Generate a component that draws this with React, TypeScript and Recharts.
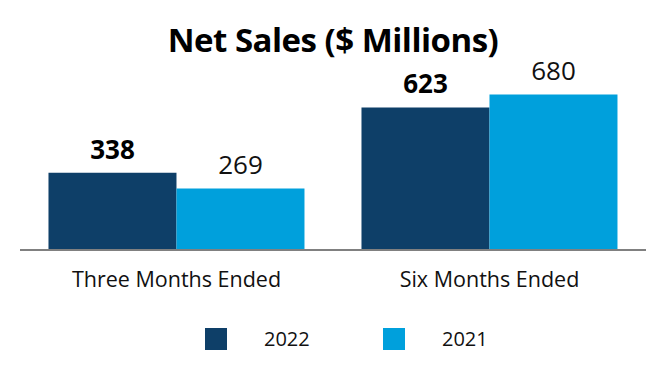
import { BarChart, Bar, XAxis, YAxis, LabelList, Legend } from "recharts";

const categories = ["Three Months Ended", "Six Months Ended"];
const sales2022 = [338, 623];
const sales2021 = [269, 680];
const seriesNames = ["2022", "2021"];

const data = categories.map((name, i) => ({
  name,
  y2022: sales2022[i],
  y2021: sales2021[i],
}));

const DARK = "#0e3f68";
const LIGHT = "#00a0dc";
const FONT = "'Open Sans', sans-serif";

function LegendContent() {
  const items = [
    { label: seriesNames[0], color: DARK, x: 205 },
    { label: seriesNames[1], color: LIGHT, x: 383 },
  ];
  return (
    <div style={{ position: "relative", height: 50, width: 666 }}>
      {items.map((it) => (
        <div key={it.label}>
          <div
            style={{
              position: "absolute",
              left: it.x,
              top: 28,
              width: 22,
              height: 22,
              background: it.color,
            }}
          />
          <div
            style={{
              position: "absolute",
              left: it.x + 59,
              top: 25,
              fontFamily: FONT,
              fontSize: 20,
              lineHeight: "28px",
              color: "#111",
            }}
          >
            {it.label}
          </div>
        </div>
      ))}
    </div>
  );
}

export default function App() {
  return (
    <div style={{ position: "absolute", left: 0, top: 0, width: 666, height: 380, background: "#fff" }}>
      <div
        style={{
          position: "absolute",
          top: 20,
          left: 0,
          width: 666,
          textAlign: "center",
          fontFamily: FONT,
          fontWeight: 700,
          fontSize: 33,
          letterSpacing: -0.5,
          color: "#000",
          lineHeight: "40px",
        }}
      >
        Net Sales ($ Millions)
      </div>
      <BarChart
        width={666}
        height={380}
        data={data}
        margin={{ top: 67, right: 20, left: 20, bottom: 30 }}
        barCategoryGap="9.1%"
        barGap={0}
      >
        <XAxis
          dataKey="name"
          height={50}
          axisLine={{ stroke: "#808080", strokeWidth: 2 }}
          tickLine={false}
          tickMargin={16}
          tick={{ fill: "#111", fontSize: 21.5, fontFamily: FONT }}
        />
        <YAxis hide domain={[0, 800]} />
        <Legend
          verticalAlign="bottom"
          wrapperStyle={{ left: 0 }}
          content={() => <LegendContent />}
        />
        <Bar dataKey="y2022" name={seriesNames[0]} fill={DARK} isAnimationActive={false}>
          <LabelList
            dataKey="y2022"
            position="top"
            offset={14}
            fill="#000"
            fontSize={26}
            fontWeight={700}
            fontFamily={FONT}
          />
        </Bar>
        <Bar dataKey="y2021" name={seriesNames[1]} fill={LIGHT} isAnimationActive={false}>
          <LabelList
            dataKey="y2021"
            position="top"
            offset={14}
            fill="#111"
            fontSize={26}
            fontFamily={FONT}
          />
        </Bar>
      </BarChart>
    </div>
  );
}
